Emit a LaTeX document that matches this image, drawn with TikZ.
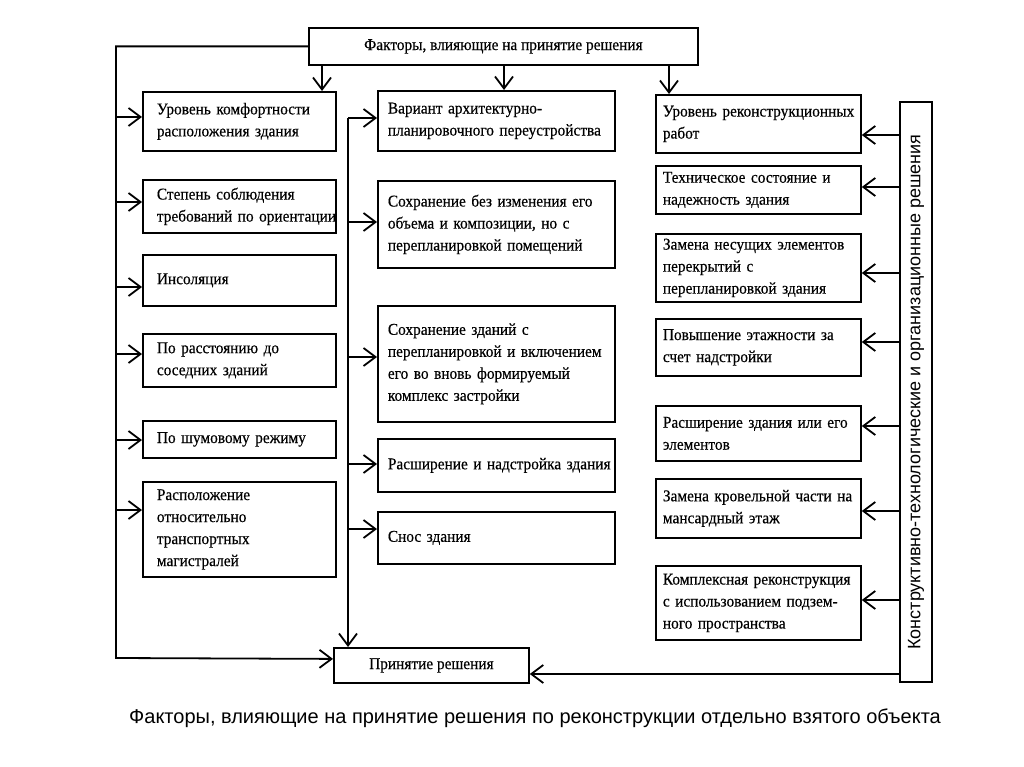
\documentclass[tikz,border=0pt]{standalone}
\usepackage{fontspec}
\setmainfont{Liberation Serif}
\newfontfamily\boxfont{Liberation Serif}[FakeStretch=0.93,FakeBold=0.4]
\newfontfamily\capfont{Liberation Sans}
\usetikzlibrary{arrows.meta}

\begin{document}
\begin{tikzpicture}[x=1pt,y=-1pt,
    blk/.style={draw,line width=1.8pt,anchor=north west,inner ysep=0pt,
        align=left,font=\boxfont\fontsize{16.5}{22}\selectfont},
    lcol/.style={blk,inner xsep=14pt,minimum width=193pt,text width=165pt},
    mcol/.style={blk,inner xsep=10pt,minimum width=237pt,text width=217pt},
    rcol/.style={blk,inner xsep=7pt,minimum width=205pt,text width=191pt},
    arr/.style={line width=1.8pt,-{Straight Barb[length=12pt,width=18pt,line width=1.8pt]}}]
    \useasboundingbox (0,0) rectangle (1024,767);

    % head and result
    \node[blk,align=center,minimum width=389pt,minimum height=37pt] (top) at (308,27)
        {Факторы, влияющие на принятие решения};
    \node[blk,align=center,minimum width=195pt,minimum height=35pt] (dec) at (333,647)
        {Принятие решения};

    % left column
    \node[lcol,minimum height=59pt] (l1) at (142,91) {Уровень комфортности\\расположения здания};
    \node[lcol,minimum height=53pt] (l2) at (142,179) {Степень соблюдения\\требований~по~ориентации};
    \node[lcol,minimum height=51pt] (l3) at (142,254) {Инсоляция};
    \node[lcol,minimum height=53pt] (l4) at (142,333) {По расстоянию до\\соседних зданий};
    \node[lcol,minimum height=37pt] (l5) at (142,420) {По шумовому режиму};
    \node[lcol,minimum height=95pt] (l6) at (142,481) {Расположение\\относительно\\транспортных\\магистралей};

    % middle column
    \node[mcol,minimum height=60pt] (m1) at (377,90) {Вариант архитектурно-\\планировочного~переустройства};
    \node[mcol,minimum height=87pt] (m2) at (377,180) {Сохранение без изменения его\\объема и композиции, но с\\перепланировкой помещений};
    \node[mcol,minimum height=116pt] (m3) at (377,305) {Сохранение зданий с\\перепланировкой~и~включением\\его во вновь формируемый\\комплекс застройки};
    \node[mcol,minimum height=53pt] (m4) at (377,438) {Расширение~и~надстройка~здания};
    \node[mcol,minimum height=52pt] (m5) at (377,511) {Снос здания};

    % right column
    \node[rcol,minimum height=58pt] (r1) at (655,94) {Уровень~реконструкционных\\работ};
    \node[rcol,minimum height=48pt] (r2) at (655,165) {Техническое состояние и\\надежность здания};
    \node[rcol,minimum height=68pt] (r3) at (655,233) {Замена несущих элементов\\перекрытий с\\перепланировкой здания};
    \node[rcol,minimum height=57pt] (r4) at (655,318) {Повышение этажности за\\счет надстройки};
    \node[rcol,minimum height=55pt] (r5) at (655,405) {Расширение здания или его\\элементов};
    \node[rcol,minimum height=59pt] (r6) at (655,478) {Замена~кровельной~части~на\\мансардный этаж};
    \node[rcol,minimum height=74pt] (r7) at (655,565) {Комплексная~реконструкция\\с использованием подзем-\\ного пространства};

    \node[draw,line width=1.8pt,rotate=90,minimum width=580pt,minimum height=32pt,inner sep=0pt,
        font=\capfont\fontsize{18}{20}\selectfont] (vb) at (916,392)
        {Конструктивно-технологические и организационные решения};

    % arrows from the head
    \draw[arr] (top.south -| 322,0) -- (l1.north -| 322,0);
    \draw[arr] (top.south -| 504,0) -- (m1.north -| 504,0);
    \draw[arr] (top.south -| 669,0) -- (r1.north -| 669,0);

    % left trunk
    \draw[arr] (top.west) -| (116,658) -- ([yshift=6.5pt]dec.west);
    \draw[arr] (116,117) -- (l1.west |- 0,117);
    \draw[arr] (116,202) -- (l2.west |- 0,202);
    \draw[arr] (116,287) -- (l3.west |- 0,287);
    \draw[arr] (116,354) -- (l4.west |- 0,354);
    \draw[arr] (116,440) -- (l5.west |- 0,440);
    \draw[arr] (116,510) -- (l6.west |- 0,510);

    % middle trunk
    \coordinate (mt) at (348,118);
    \draw[arr] (mt) -- (mt |- dec.north);
    \draw[arr] (mt) -- (m1.west |- mt);
    \draw[arr] (348,222) -- (m2.west |- 0,222);
    \draw[arr] (348,357) -- (m3.west |- 0,357);
    \draw[arr] (348,464) -- (m4.west |- 0,464);
    \draw[arr] (348,529) -- (m5.west |- 0,529);

    % right side
    \draw[arr] (vb.north |- 0,135) -- (r1.east |- 0,135);
    \draw[arr] (vb.north |- 0,187) -- (r2.east |- 0,187);
    \draw[arr] (vb.north |- 0,273) -- (r3.east |- 0,273);
    \draw[arr] (vb.north |- 0,342) -- (r4.east |- 0,342);
    \draw[arr] (vb.north |- 0,426) -- (r5.east |- 0,426);
    \draw[arr] (vb.north |- 0,511) -- (r6.east |- 0,511);
    \draw[arr] (vb.north |- 0,600) -- (r7.east |- 0,600);
    \draw[arr] (vb.north |- 0,674) -- (dec.east |- 0,674);

    \node[font=\capfont\fontsize{20}{24}\selectfont] (cap) at (535,718)
        {Факторы, влияющие на принятие решения по реконструкции отдельно взятого объекта};
\end{tikzpicture}
\end{document}
